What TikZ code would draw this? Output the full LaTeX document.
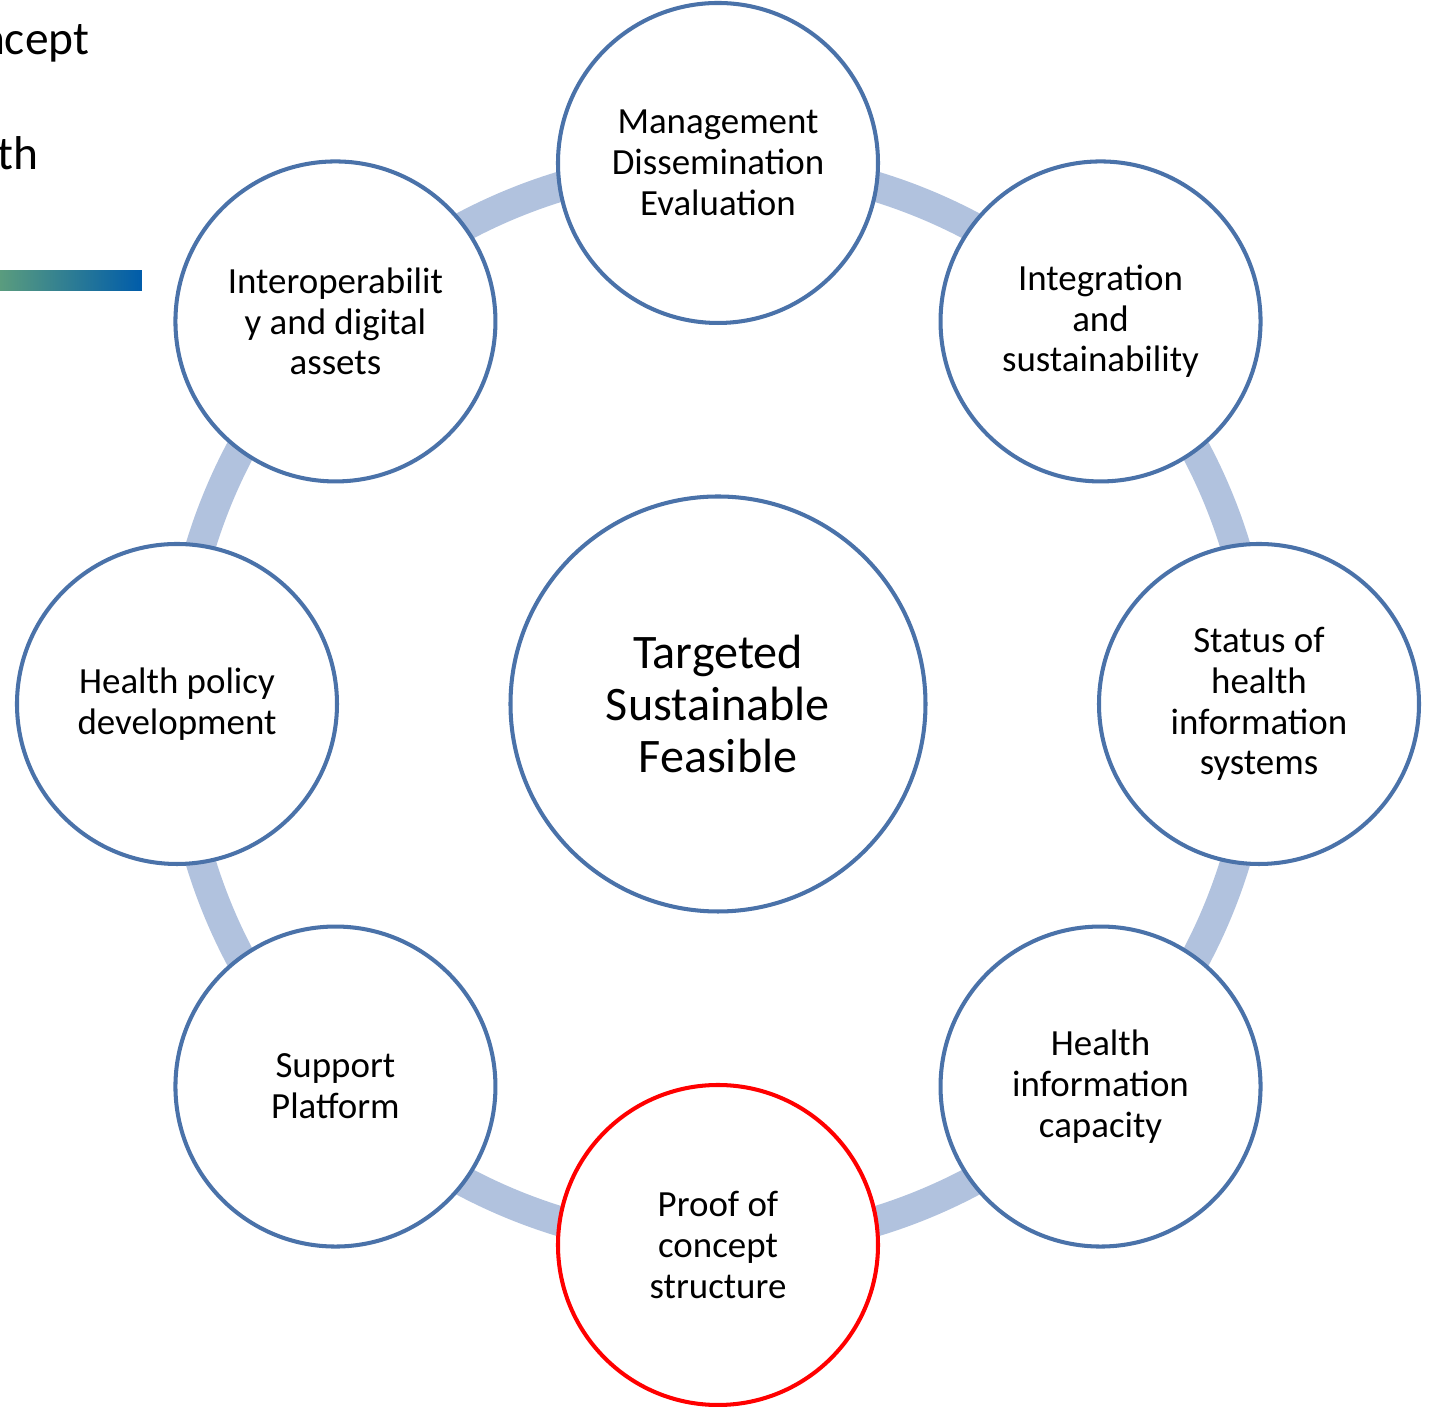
\documentclass[tikz,border=0pt]{standalone}
\usepackage{fontspec}
\setmainfont{Carlito}
\usetikzlibrary{shapes,positioning,arrows,calc}
\usepackage{xcolor}
\definecolor{ringblue}{HTML}{4A72A9}
\definecolor{bandblue}{HTML}{B1C2DE}
\definecolor{barleft}{HTML}{5A9C7E}
\definecolor{barright}{HTML}{005CAA}
\pgfdeclarelayer{background}
\pgfsetlayers{background,main}

\begin{document}
\begin{tikzpicture}[
    n/.style ={
        circle,
        draw=ringblue,
        fill=white,
        line width=1.15pt,
        minimum size=3.2cm,
        inner sep=0pt,
        align=center,
        font=\fontsize{10.5}{11.6}\selectfont
    },
    core/.style ={
        n,
        minimum size=4.15cm,
        font=\fontsize{13.7}{14.8}\selectfont
    },
    band/.style ={
        draw=bandblue,
        line width=0.3cm,
        bend left=22.5,
        looseness=0.885
    },
    frag/.style ={
        anchor=base east,
        inner sep=0pt,
        font=\fontsize{13.5}{17}\selectfont
    }
    ]
    \useasboundingbox (-7.18,-7.03) rectangle (7.11,7.04);

    % slide leftovers
    \node[frag] (fragA) at (-6.28,6.49) {ncept};
    \node[frag] (fragB) at (-6.79,5.34) {th};
    \shade[left color=barleft, right color=barright] (-7.18,4.33) rectangle (-5.76,4.13);

    \node[core] (core) at (0,0) {Targeted\\Sustainable\\Feasible};

    \foreach \x/ \ang/ \col/ \txt in {{mgmt/90/ringblue/{Management\\Dissemination\\Evaluation}},
                                      {integ/45/ringblue/{Integration\\and\\sustainability}},
                                      {status/0/ringblue/{Status of\\health\\information\\systems}},
                                      {capacity/-45/ringblue/{Health\\information\\capacity}},
                                      {proof/-90/red/{Proof of\\concept\\structure}},
                                      {support/-135/ringblue/{Support\\Platform}},
                                      {policy/180/ringblue/{Health policy\\development}},
                                      {interop/135/ringblue/{Interoperabilit\\y and digital\\assets}}}
        \node[n, draw=\col] (\x) at (\ang:5.41) {\txt};

    \begin{pgfonlayer}{background}
    \foreach \src/ \dst in {mgmt/integ, integ/status, status/capacity, capacity/proof,
                            proof/support, support/policy, policy/interop, interop/mgmt}
        \draw[band] (\src.center) to (\dst.center);
    \end{pgfonlayer}
\end{tikzpicture}
\end{document}
